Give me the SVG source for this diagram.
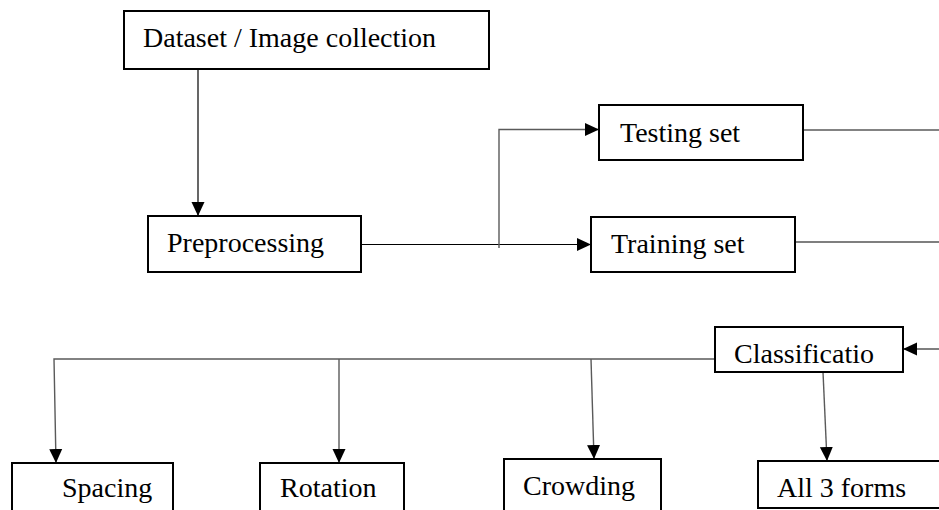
<svg xmlns="http://www.w3.org/2000/svg" width="939" height="510" viewBox="0 0 939 510">
  <style>
    .box { fill: #ffffff; stroke: #000000; stroke-width: 2; }
    .wire { fill: none; stroke: #000000; stroke-width: 1.2; }
    .wire-g { fill: none; stroke: #5a5a5a; stroke-width: 1.4; }
  </style>
  <defs>
    <marker id="arrow" markerUnits="userSpaceOnUse" markerWidth="14" markerHeight="14" refX="14" refY="7" orient="auto">
      <path d="M0,0.5 L14,7 L0,13.5 z" fill="#000000"/>
    </marker>
  </defs>
  <rect width="939" height="510" fill="#ffffff"/>

  <!-- connectors -->
  <g id="connectors">
    <path class="wire" d="M198,69 V216" marker-end="url(#arrow)"/>
    <path class="wire" d="M361,244.5 H591" marker-end="url(#arrow)"/>
    <path class="wire-g" d="M499,248 V129.5 H599" marker-end="url(#arrow)"/>
    <path class="wire-g" d="M803,130 H939"/>
    <path class="wire" d="M795,242 H939"/>
    <path class="wire" d="M939,349 H903" marker-end="url(#arrow)"/>
    <path class="wire-g" d="M719,359 H54 L56,463" marker-end="url(#arrow)"/>
    <path class="wire-g" d="M339,359 V463" marker-end="url(#arrow)"/>
    <path class="wire-g" d="M591,359 L594,459" marker-end="url(#arrow)"/>
    <path class="wire-g" d="M823,372 L827,461" marker-end="url(#arrow)"/>
  </g>

  <!-- node labels use a Times-metric serif -->
  <g font-family="Liberation Serif, Tinos, DejaVu Serif, serif" font-size="28" fill="#000000">
    <g id="dataset">
      <rect class="box" x="124" y="11" width="365" height="58"/>
      <text x="143" y="47">Dataset / Image collection</text>
    </g>
    <g id="preprocessing">
      <rect class="box" x="148" y="216" width="213" height="56"/>
      <text x="167" y="252">Preprocessing</text>
    </g>
    <g id="testing">
      <rect class="box" x="599" y="105" width="204" height="55"/>
      <text x="620" y="142">Testing set</text>
    </g>
    <g id="training">
      <rect class="box" x="591" y="217" width="204" height="55"/>
      <text x="611" y="253">Training set</text>
    </g>
    <g id="classification">
      <rect class="box" x="715" y="327" width="188" height="45"/>
      <text x="734" y="363">Classificatio</text>
    </g>
    <g id="spacing">
      <rect class="box" x="12" y="463" width="161" height="60"/>
      <text x="62" y="497">Spacing</text>
    </g>
    <g id="rotation">
      <rect class="box" x="260" y="463" width="144" height="60"/>
      <text x="280" y="497">Rotation</text>
    </g>
    <g id="crowding">
      <rect class="box" x="504" y="459" width="157" height="60"/>
      <text x="523" y="495">Crowding</text>
    </g>
    <g id="all-forms">
      <rect class="box" x="758" y="461" width="200" height="47"/>
      <text x="777" y="497">All 3 forms</text>
    </g>
  </g>
</svg>
